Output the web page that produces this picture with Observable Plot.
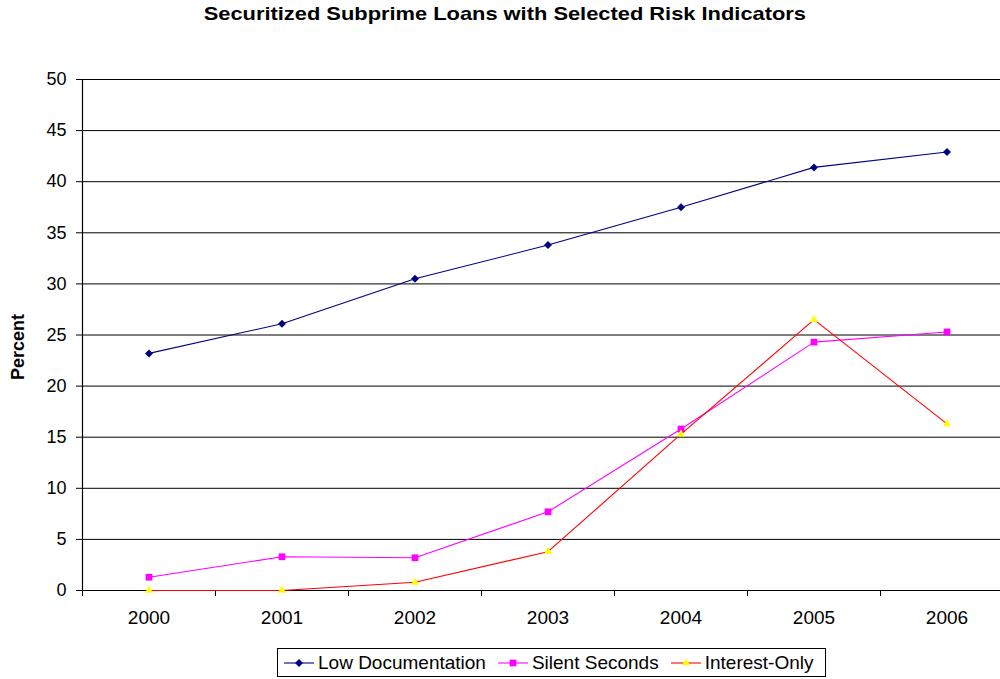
<!DOCTYPE html>
<html>
<head>
<meta charset="utf-8">
<script src="https://cdn.jsdelivr.net/npm/d3@7"></script>
<script src="https://cdn.jsdelivr.net/npm/@observablehq/plot@0.6"></script>
<style>
  html, body { margin: 0; padding: 0; background: #fff; }
  body { width: 1000px; height: 679px; overflow: hidden; position: relative; font-family: "Liberation Sans", Arial, sans-serif; }
  #title { height: 30px; line-height: 28px; text-align: center; color: #000; padding-left: 10px; }
  #title span { display: inline-block; font-weight: bold; font-size: 19px; transform: scaleX(1.15); }
  #legend { position: absolute; left: 277px; top: 648px; width: 547px; height: 27px; border: 1px solid #000; display: flex; align-items: center; font-size: 19px; color: #000; box-sizing: content-box; }
  #legend .item { display: flex; align-items: center; margin-left: 5px; margin-right: 6px; }
  #legend svg { margin-right: 3px; }
</style>
</head>
<body>
<div id="title"><span>Securitized Subprime Loans with Selected Risk Indicators</span></div>
<div id="chart"></div>
<div id="legend"></div>
<script>
const years = [2000, 2001, 2002, 2003, 2004, 2005, 2006];
const lowDocumentation = [23.2, 26.1, 30.5, 33.8, 37.5, 41.4, 42.9];
const silentSeconds = [1.3, 3.3, 3.2, 7.7, 15.8, 24.3, 25.3];
const interestOnly = [0.0, 0.0, 0.8, 3.8, 15.3, 26.5, 16.3];
const seriesNames = ["Low Documentation", "Silent Seconds", "Interest-Only"];
const lineColors = ["#000080", "#FF00FF", "#FF0000"];
const markerColors = ["#000080", "#FF00FF", "#FFFF00"];
const markerSymbols = ["diamond2", "square", "triangle"];
const markerRadii = [3.6, 3.8, 3.0];
const yTicks = [0, 5, 10, 15, 20, 25, 30, 35, 40, 45, 50];
const xBoundaries = [1999.5, 2000.5, 2001.5, 2002.5, 2003.5, 2004.5, 2005.5, 2006.5];

const seriesValues = [lowDocumentation, silentSeconds, interestOnly];
const rows = [];
seriesNames.forEach((name, si) => {
  years.forEach((yr, i) => rows.push({series: name, year: yr, value: seriesValues[si][i]}));
});

const marks = [
  Plot.ruleY(yTicks, {stroke: "#000", strokeWidth: 1}),
  Plot.ruleX([xBoundaries[0]], {stroke: "#000", strokeWidth: 1.2}),
  Plot.axisY({ticks: yTicks, tickSize: 6, tickPadding: 10, fontSize: 18, label: null, stroke: "#000", tickFormat: d => String(d)}),
  Plot.axisX({ticks: years, tickSize: 0, tickPadding: 20, fontSize: 19, label: null, tickFormat: d => String(d)}),
  Plot.axisX({ticks: xBoundaries, tickSize: 6, tickFormat: () => "", label: null, stroke: "#000"}),
  Plot.ruleY([0], {stroke: "#000", strokeWidth: 1.2}),
  Plot.text(["Percent"], {frameAnchor: "left", textAnchor: "middle", dx: -64, dy: 12, rotate: -90, fontSize: 18, fontWeight: "bold", fill: "#000"})
];
seriesNames.forEach((name, si) => {
  const d = rows.filter(r => r.series === name);
  marks.push(Plot.line(d, {x: "year", y: "value", stroke: lineColors[si], strokeWidth: 1.1}));
  marks.push(Plot.dot(d, {x: "year", y: "value", symbol: () => markerSymbols[si], fill: markerColors[si], stroke: "none", r: markerRadii[si]}));
});

const chart = Plot.plot({
  width: 1000,
  height: 610,
  marginTop: 49,
  marginBottom: 50,
  marginLeft: 82,
  marginRight: 0,
  style: {fontFamily: "'Liberation Sans', Arial, sans-serif", color: "#000", background: "#fff", overflow: "hidden"},
  x: {type: "linear", domain: [xBoundaries[0], xBoundaries[xBoundaries.length - 1]], range: [82, 1013]},
  y: {domain: [0, 50]},
  symbol: {type: "identity"},
  marks
});
document.getElementById("chart").appendChild(chart);

const legend = document.getElementById("legend");
seriesNames.forEach((name, si) => {
  const item = document.createElement("div");
  item.className = "item";
  const sym = d3.symbol().type({diamond2: d3.symbolDiamond2, square: d3.symbolSquare, triangle: d3.symbolTriangle}[markerSymbols[si]]).size(Math.PI * markerRadii[si] ** 2)();
  item.innerHTML = `<svg width="32" height="12"><line x1="1" x2="31" y1="6" y2="6" stroke="${lineColors[si]}" stroke-width="1.1"/><path transform="translate(16,6)" d="${sym}" fill="${markerColors[si]}"/></svg><span>${name}</span>`;
  legend.appendChild(item);
});
</script>
</body>
</html>
